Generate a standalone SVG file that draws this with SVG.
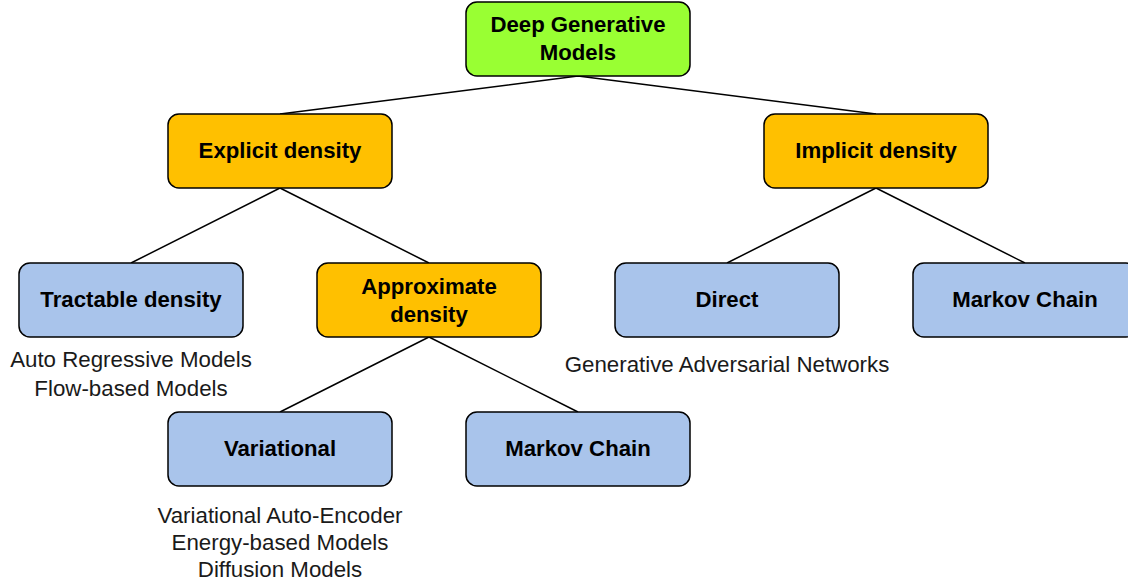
<svg xmlns="http://www.w3.org/2000/svg" width="1128" height="583" viewBox="0 0 1128 583">
  <style>
    .box { stroke: #000; stroke-width: 1.5; }
    .root { fill: #99ff33; }
    .mid { fill: #ffc000; }
    .leaf { fill: #a9c4eb; }
    .title { font-family: "Liberation Sans", Arial, sans-serif; font-size: 22.2px; font-weight: bold; fill: #000; text-anchor: middle; }
    .note { font-family: "Liberation Sans", Arial, sans-serif; font-size: 22.3px; fill: #1a1a1a; text-anchor: middle; }
    .edge { stroke: #000; stroke-width: 1.5; fill: none; }
  </style>
  <rect width="1128" height="583" fill="#fff"/>

  <g id="connectors">
    <path class="edge" d="M578 76 L280 114 M578 76 L876 114"/>
    <path class="edge" d="M280 188 L131 263 M280 188 L429 263"/>
    <path class="edge" d="M876 188 L727 263 M876 188 L1025 263"/>
    <path class="edge" d="M429 337 L280 412 M429 337 L578 412"/>
  </g>

  <g id="deep-generative-models">
    <rect class="box root" x="466" y="2" width="224" height="74" rx="11"/>
    <text class="title" x="578" y="32">Deep Generative</text>
    <text class="title" x="578" y="60">Models</text>
  </g>

  <g id="explicit-density">
    <rect class="box mid" x="168" y="114" width="224" height="74" rx="11"/>
    <text class="title" x="280" y="158">Explicit density</text>
  </g>

  <g id="implicit-density">
    <rect class="box mid" x="764" y="114" width="224" height="74" rx="11"/>
    <text class="title" x="876" y="158">Implicit density</text>
  </g>

  <g id="tractable-density">
    <rect class="box leaf" x="19" y="263" width="224" height="74" rx="11"/>
    <text class="title" x="131" y="307">Tractable density</text>
    <text class="note" x="131" y="367">Auto Regressive Models</text>
    <text class="note" x="131" y="396">Flow-based Models</text>
  </g>

  <g id="approximate-density">
    <rect class="box mid" x="317" y="263" width="224" height="74" rx="11"/>
    <text class="title" x="429" y="294">Approximate</text>
    <text class="title" x="429" y="322">density</text>
  </g>

  <g id="direct">
    <rect class="box leaf" x="615" y="263" width="224" height="74" rx="11"/>
    <text class="title" x="727" y="307">Direct</text>
    <text class="note" x="727" y="372">Generative Adversarial Networks</text>
  </g>

  <g id="markov-chain-implicit">
    <rect class="box leaf" x="913" y="263" width="224" height="74" rx="11"/>
    <text class="title" x="1025" y="307">Markov Chain</text>
  </g>

  <g id="variational">
    <rect class="box leaf" x="168" y="412" width="224" height="74" rx="11"/>
    <text class="title" x="280" y="456">Variational</text>
    <text class="note" x="280" y="523">Variational Auto-Encoder</text>
    <text class="note" x="280" y="550">Energy-based Models</text>
    <text class="note" x="280" y="577">Diffusion Models</text>
  </g>

  <g id="markov-chain-approximate">
    <rect class="box leaf" x="466" y="412" width="224" height="74" rx="11"/>
    <text class="title" x="578" y="456">Markov Chain</text>
  </g>
</svg>
